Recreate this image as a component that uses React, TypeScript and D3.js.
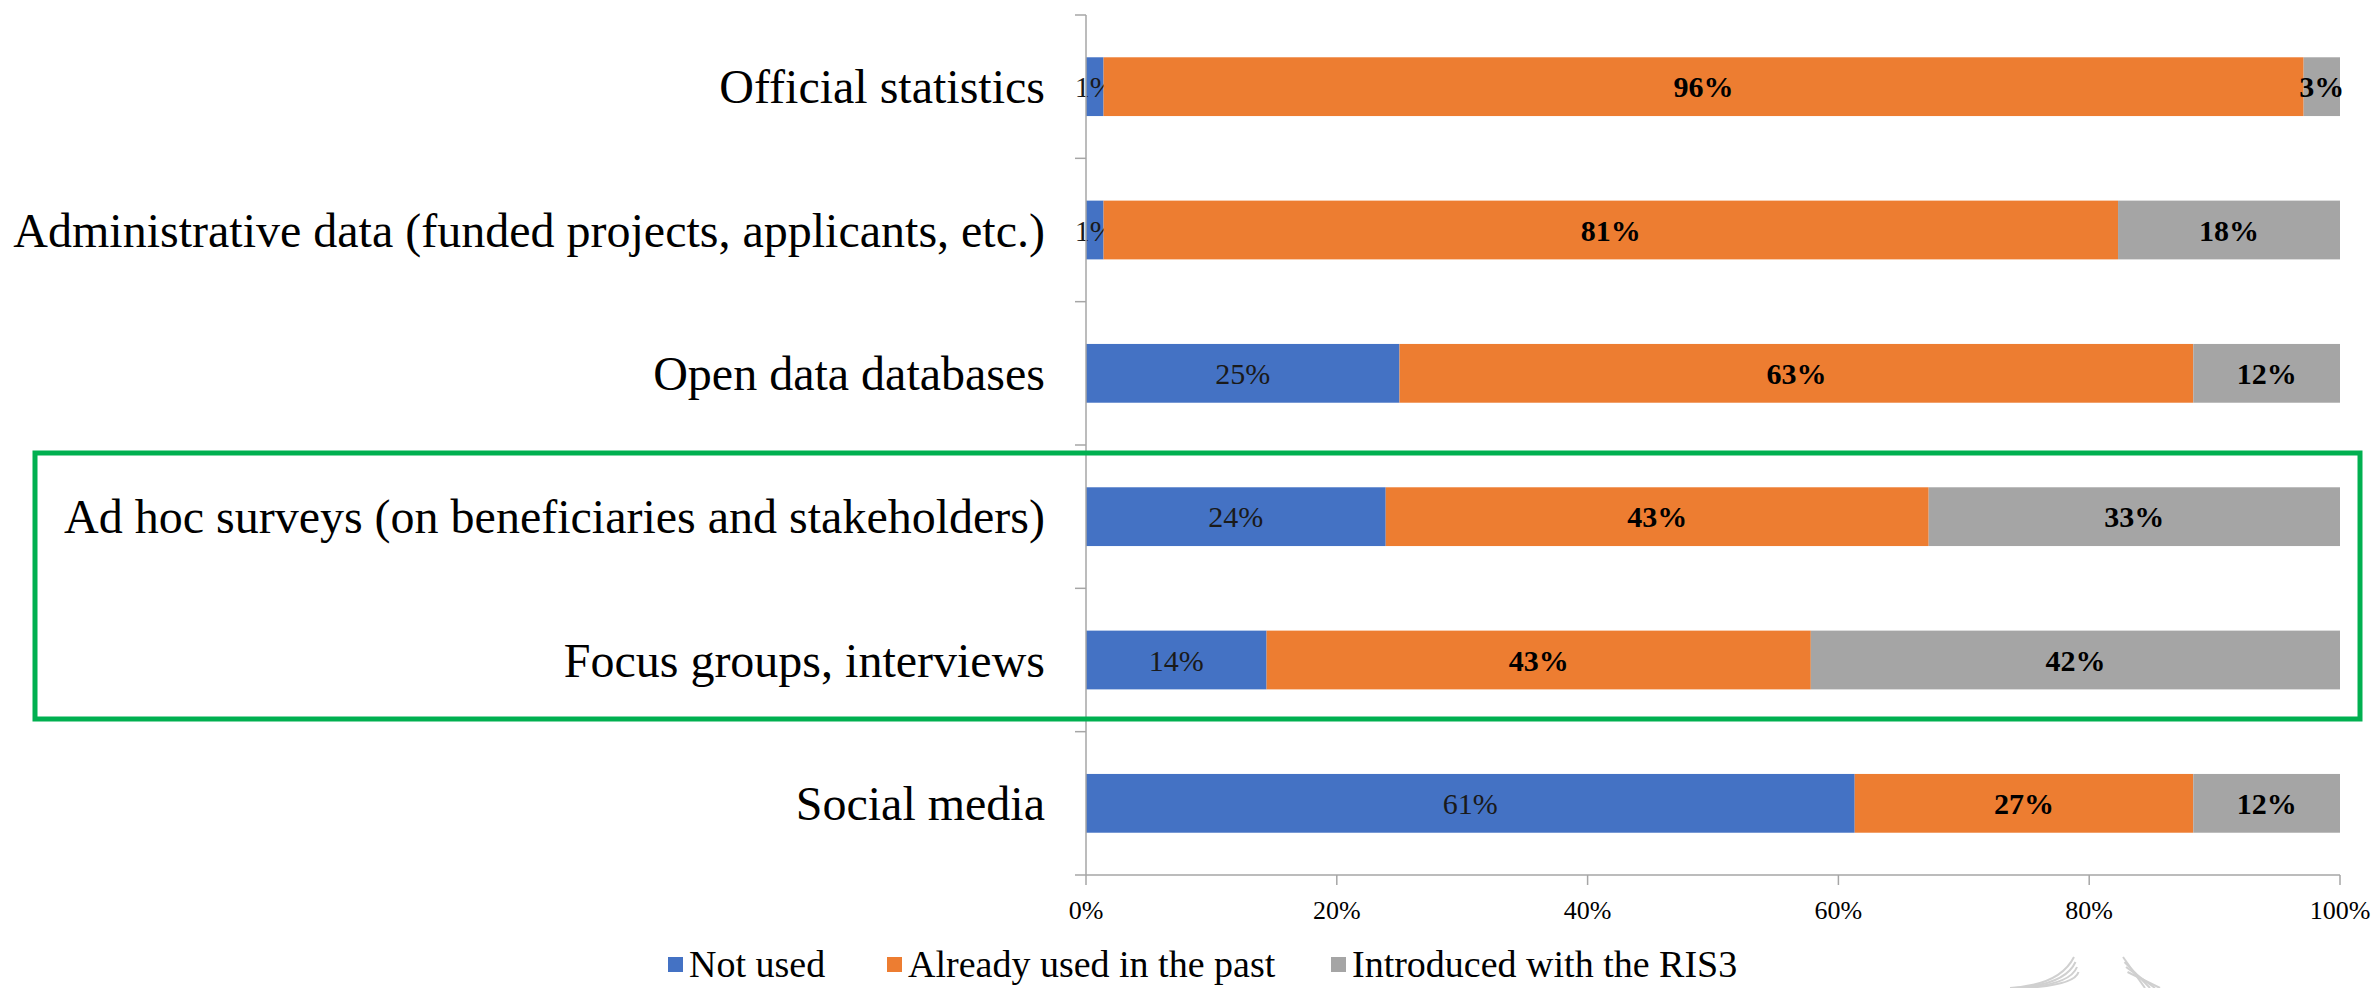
import React from "react";
import * as d3 from "d3";

const categories = [
  "Official statistics",
  "Administrative data (funded projects, applicants, etc.)",
  "Open data databases",
  "Ad hoc surveys (on beneficiaries and stakeholders)",
  "Focus groups, interviews",
  "Social media",
];
const seriesNames = ["Not used", "Already used in the past", "Introduced with the RIS3"];
const notUsed = [1.4, 1.4, 25.0, 23.9, 14.4, 61.3];
const alreadyUsed = [95.7, 80.9, 63.3, 43.3, 43.4, 27.0];
const introduced = [2.9, 17.7, 11.7, 32.8, 42.2, 11.7];
const xTicks = [0, 20, 40, 60, 80, 100];
const colors = ["#4472C4", "#ED7D31", "#A5A5A5"];

const W = 2374;
const H = 988;
const left = 1086;
const right = 2340;
const top = 15;
const bottom = 875;

export default function App() {
  const x = d3.scaleLinear().domain([0, 100]).range([left, right]);
  const y = d3.scaleBand().domain(categories).range([top, bottom]).paddingInner(0.59).paddingOuter(0.295);
  const rows = categories.map((c, i) => ({ cat: c, a: notUsed[i], b: alreadyUsed[i], c2: introduced[i] }));
  const stack = d3.stack<any>().keys(["a", "b", "c2"])(rows);
  const bw = y.bandwidth();
  const font = "'Liberation Serif', 'Times New Roman', serif";
  const step = (bottom - top) / categories.length;
  const boundaries = d3.range(categories.length + 1).map((k) => top + k * step);

  const legendX = [668, 887, 1331];

  return (
    <svg width={W} height={H} style={{ position: "absolute", left: 0, top: 0, background: "#fff" }} fontFamily={font}>
      <rect x={0} y={0} width={W} height={H} fill="#fff" />
      {stack.map((s, si) =>
        s.map((d, i) => {
          const x0 = x(d[0]);
          const x1 = x(d[1]);
          const yy = y(categories[i])!;
          const v = d[1] - d[0];
          return (
            <g key={si + "-" + i}>
              <rect x={x0} y={yy} width={x1 - x0} height={bw} fill={colors[si]} />
              <text
                x={(x0 + x1) / 2}
                y={yy + bw / 2}
                dy="0.35em"
                textAnchor="middle"
                fontSize={30}
                fontWeight={si === 0 ? "normal" : "bold"}
                fill={si === 0 ? "#1a1a1a" : "#000"}
              >
                {Math.round(v) + "%"}
              </text>
            </g>
          );
        })
      )}
      {/* y axis */}
      <line x1={left} x2={left} y1={top} y2={bottom} stroke="#A6A6A6" strokeWidth={1.5} />
      {boundaries.map((b, i) => (
        <line key={"yt" + i} x1={left - 11} x2={left} y1={b} y2={b} stroke="#A6A6A6" strokeWidth={1.5} />
      ))}
      {categories.map((c) => (
        <text key={"cl" + c} x={1045} y={y(c)! + bw / 2} dy="0.35em" textAnchor="end" fontSize={48} fill="#000">
          {c}
        </text>
      ))}
      {/* x axis */}
      <line x1={left} x2={right} y1={bottom} y2={bottom} stroke="#A6A6A6" strokeWidth={1.5} />
      {xTicks.map((t) => (
        <g key={"xt" + t}>
          <line x1={x(t)} x2={x(t)} y1={bottom} y2={bottom + 10} stroke="#A6A6A6" strokeWidth={1.5} />
          <text x={x(t)} y={919} textAnchor="middle" fontSize={26} fill="#000">
            {t + "%"}
          </text>
        </g>
      ))}
      {/* legend */}
      {seriesNames.map((n, i) => (
        <g key={"lg" + i}>
          <rect x={legendX[i]} y={957} width={15} height={15} fill={colors[i]} />
          <text x={legendX[i] + 21} y={977} fontSize={38} fill="#000">
            {n}
          </text>
        </g>
      ))}
      {/* highlight box */}
      <rect x={35} y={453} width={2325} height={266} fill="none" stroke="#00B050" strokeWidth={5} />
      {/* faint logo fragment */}
      <g fill="none" stroke="#D0D0D0" strokeWidth={2}>
        {[0, 5, 10, 15].map((o) => (
          <path key={"lc" + o} d={`M ${2010 + o} 988 Q ${2060 + o} 985 ${2074 + o * 0.3} ${957 + o}`} />
        ))}
        {[0, 5, 10, 15].map((o) => (
          <path key={"rc" + o} d={`M ${2123 + o * 0.3} ${957 + o} L ${2145 + o} 988`} />
        ))}
      </g>
    </svg>
  );
}
